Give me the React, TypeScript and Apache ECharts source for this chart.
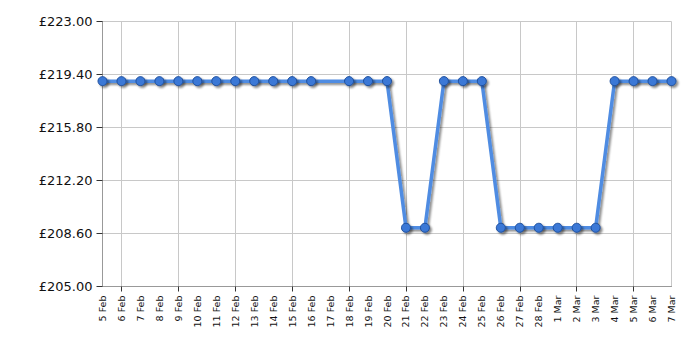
import React, { useEffect, useRef } from "react";
import * as echarts from "echarts";

const dates: string[] = [
  "5 Feb", "6 Feb", "7 Feb", "8 Feb", "9 Feb", "10 Feb", "11 Feb", "12 Feb", "13 Feb", "14 Feb",
  "15 Feb", "16 Feb", "17 Feb", "18 Feb", "19 Feb", "20 Feb", "21 Feb", "22 Feb", "23 Feb", "24 Feb",
  "25 Feb", "26 Feb", "27 Feb", "28 Feb", "1 Mar", "2 Mar", "3 Mar", "4 Mar", "5 Mar", "6 Mar", "7 Mar",
];

const prices: (number | null)[] = [
  218.95, 218.95, 218.95, 218.95, 218.95, 218.95, 218.95, 218.95, 218.95, 218.95,
  218.95, 218.95, null, 218.95, 218.95, 218.95, 208.99, 208.99, 218.95, 218.95,
  218.95, 208.99, 208.99, 208.99, 208.99, 208.99, 208.99, 218.95, 218.95, 218.95, 218.95,
];

const yMin = 205;
const yMax = 223;
const yStep = 3.6;

export default function App() {
  const ref = useRef<HTMLDivElement>(null);
  useEffect(() => {
    if (!ref.current) return;
    const chart = echarts.init(ref.current, undefined, { renderer: "svg" });
    const gridIdx = (i: number) => i % 3 === 1;
    chart.setOption({
      animation: false,
      grid: { left: 102.5, right: 28.5, top: 21.5, bottom: 63.5, containLabel: false },
      xAxis: {
        type: "category",
        data: dates,
        boundaryGap: false,
        axisLine: { lineStyle: { color: "#999999", width: 1 } },
        axisTick: { show: true, interval: (i: number) => gridIdx(i), length: 5, lineStyle: { color: "#333" } },
        splitLine: {
          show: true,
          interval: (i: number) => gridIdx(i) || i === dates.length - 1,
          lineStyle: { color: "#c8c8c8", width: 1 },
        },
        axisLabel: {
          interval: 0,
          rotate: 90,
          fontFamily: "DejaVu Sans",
          fontSize: 9.5,
          color: "#111",
          margin: 9,
        },
      },
      yAxis: {
        type: "value",
        min: 0,
        max: yMax - yMin,
        interval: yStep,
        axisLine: { show: true, lineStyle: { color: "#999999", width: 1 } },
        axisTick: { show: true, length: 6, lineStyle: { color: "#333" } },
        splitLine: { show: true, lineStyle: { color: "#c8c8c8", width: 1 } },
        axisLabel: {
          fontFamily: "DejaVu Sans",
          fontSize: 13,
          color: "#111",
          margin: 10,
          formatter: (v: number) => "£" + (v + yMin).toFixed(2),
        },
      },
      series: [
        {
          type: "line",
          data: prices.map((p) => (p === null ? null : p - yMin)),
          connectNulls: true,
          symbol: "circle",
          symbolSize: 9,
          lineStyle: {
            color: "#4f8ce2",
            width: 3.5,
            shadowColor: "rgba(0,0,0,0.45)",
            shadowOffsetX: 2,
            shadowOffsetY: 2,
            shadowBlur: 2,
          },
          itemStyle: {
            color: "#3a78d6",
            borderColor: "#1f4f9c",
            borderWidth: 1,
            shadowColor: "rgba(0,0,0,0.45)",
            shadowOffsetX: 2,
            shadowOffsetY: 2,
            shadowBlur: 2,
          },
        },
      ],
    });
    return () => chart.dispose();
  }, []);
  return <div ref={ref} style={{ width: 700, height: 350, position: "absolute", left: 0, top: 0 }} />;
}
